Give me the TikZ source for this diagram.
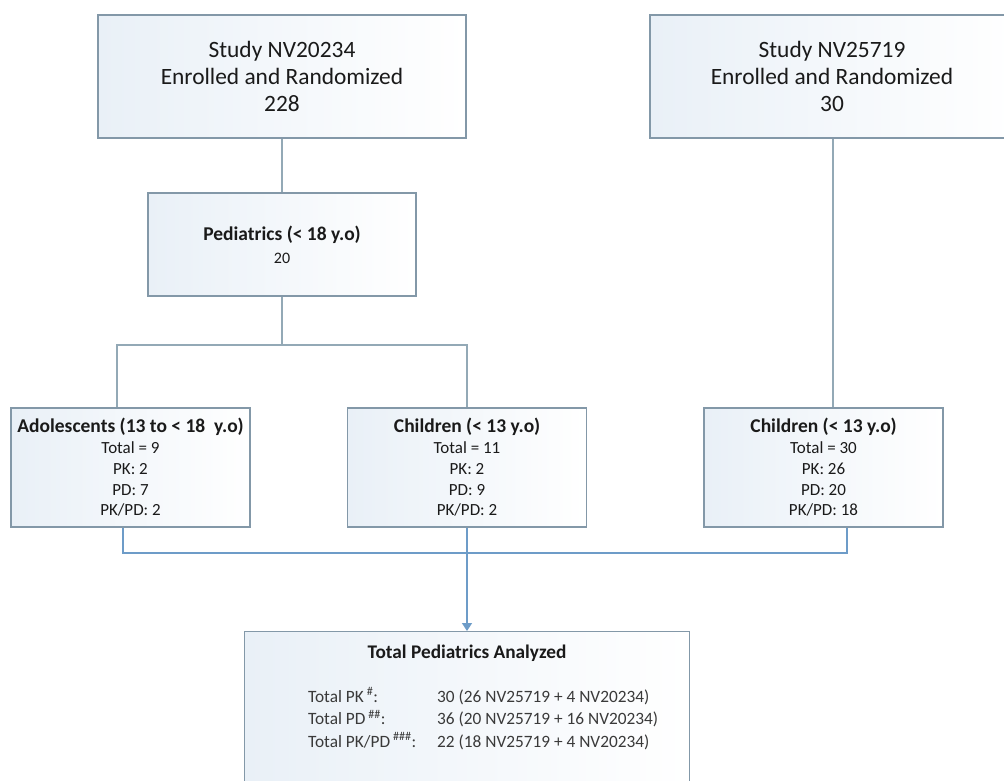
\documentclass[tikz,border=0pt]{standalone}
\usepackage{fontspec}
\setmainfont{Carlito}
\usetikzlibrary{arrows.meta,calc}
\definecolor{boxline}{HTML}{8398A8}
\definecolor{boxfill}{HTML}{E9F0F7}
\definecolor{connA}{HTML}{93A9B6}
\definecolor{connB}{HTML}{6D9CC8}
\definecolor{txt}{HTML}{1A1A1A}
\definecolor{txtb}{HTML}{3A3A3A}
\newcommand{\ttl}[1]{{\bfseries\fontsize{19.5}{20.8}\selectfont #1}}
\tikzset{
  flowbox/.style={draw=boxline, line width=1.2pt, left color=boxfill, right color=white, inner sep=0pt, align=center, text=txt},
  smallbox/.style={flowbox, minimum width=239pt, minimum height=119pt, font=\fontsize{17}{20.8}\selectfont},
  topline/.style={draw=connA, line width=1.5pt},
  botline/.style={draw=connB, line width=1.5pt},
}
\begin{document}
\begin{tikzpicture}[x=1pt,y=-1pt]
\useasboundingbox (0,0) rectangle (1004,781);
\clip (0,0) rectangle (1004,781);
\fill[white] (0,0) rectangle (1004,781);
\node[flowbox, minimum width=368pt, minimum height=123pt, font=\fontsize{23.4}{27}\selectfont] (s1) at (282,76.5) {Study NV20234\\Enrolled and Randomized\\228};
\node[flowbox, minimum width=364pt, minimum height=123pt, font=\fontsize{23.4}{27}\selectfont] (s2) at (832,76.5) {Study NV25719\\Enrolled and Randomized\\30};
\node[flowbox, minimum width=268pt, minimum height=103pt, font=\fontsize{16}{23}\selectfont] (ped) at (282,244.5) {\ttl{Pediatrics (< 18 y.o)}\\20};
\node[smallbox] (adol) at (130.5,467.5) {\ttl{Adolescents (13 to < 18~~y.o)}\\Total = 9\\PK: 2\\PD: 7\\PK/PD: 2};
\node[smallbox] (chM) at (467,467.5) {\ttl{Children (< 13 y.o)}\\Total = 11\\PK: 2\\PD: 9\\PK/PD: 2};
\node[smallbox] (chR) at (823.5,467.5) {\ttl{Children (< 13 y.o)}\\Total = 30\\PK: 26\\PD: 20\\PK/PD: 18};
\node[flowbox, minimum width=445pt, minimum height=180pt, anchor=north] (tot) at (467,631) {};
\node[font=\bfseries\fontsize{19.3}{22}\selectfont, text=txt, inner sep=0pt] (totT) at (467,653) {Total Pediatrics Analyzed};
\node[anchor=west, font=\fontsize{17.3}{22.5}\selectfont, text=txtb, inner sep=0pt] (totL) at (308,720) {\begin{tabular}{@{}p{129pt}@{}l@{}}
Total PK\,\textsuperscript{\#}: & 30 (26 NV25719 + 4 NV20234)\\
Total PD\,\textsuperscript{\#\#}: & 36 (20 NV25719 + 16 NV20234)\\
Total PK/PD\,\textsuperscript{\#\#\#}: & 22 (18 NV25719 + 4 NV20234)
\end{tabular}};
\coordinate (split) at (282,345);
\coordinate (merge) at (467,553);
\draw[topline] (s1.south) -- (ped.north);
\draw[topline] (ped.south) -- (split);
\draw[topline] ([xshift=-13.5pt]adol.north) |- (split) -| (chM.north);
\draw[topline] ([xshift=1pt]s2.south) -- ([xshift=1pt]s2.south |- chR.north);
\draw[botline] ([xshift=-7.5pt]adol.south) |- (merge) -| ([xshift=23.5pt]chR.south);
\draw[botline, -{Triangle[width=10pt,length=8pt]}] (chM.south) -- (tot.north);
\end{tikzpicture}
\end{document}
